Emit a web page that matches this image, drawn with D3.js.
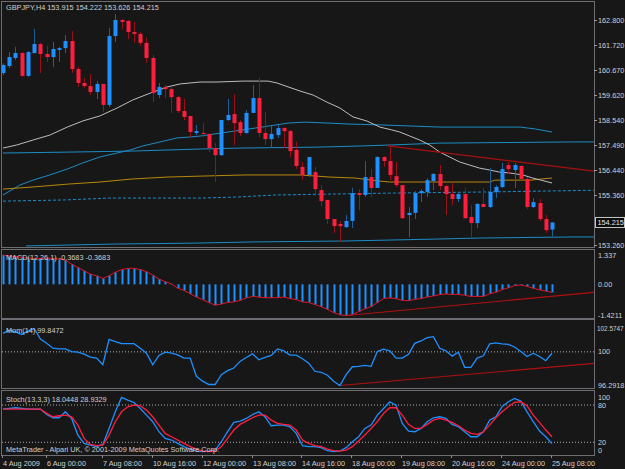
<!DOCTYPE html>
<html><head><meta charset="utf-8">
<script src="https://cdn.jsdelivr.net/npm/d3@7"></script>
<style>html,body{margin:0;padding:0;background:#181718;}svg{display:block;}</style>
</head><body>
<svg id="c" width="625" height="469"></svg>
<script>
// ---------------- DATA ----------------
const openVals=[160.55,160.85,161.19,161.40,160.43,161.40,161.78,161.36,161.23,161.53,161.61,161.91,160.72,160.13,160.00,159.75,160.09,159.20,162.12,162.80,162.76,162.29,162.21,161.83,161.19,159.62,159.96,159.87,159.53,158.94,158.73,158.01,158.01,157.97,157.37,157.07,158.56,158.81,158.47,158.01,158.86,159.49,158.01,157.75,157.92,158.22,158.09,157.29,156.57,156.23,156.35,155.59,155.17,154.36,154.15,154.02,154.28,155.46,155.38,156.14,155.68,156.99,156.82,156.18,155.80,154.53,154.62,155.46,155.51,155.97,156.27,155.76,155.42,155.21,155.42,154.45,154.19,155.00,154.87,155.51,155.72,156.65,156.44,156.61,156.06,154.87,155.04,154.36,153.915];
const highVals=[160.95,161.44,161.66,161.44,161.49,162.42,161.83,161.70,161.87,161.66,162.16,162.33,160.81,160.34,160.51,160.21,160.09,162.46,163.05,162.84,162.80,162.72,162.29,162.04,161.32,160.13,160.04,159.96,159.58,159.45,158.73,158.35,158.43,157.97,157.58,158.56,159.45,159.66,158.56,158.98,160.04,160.34,158.90,158.30,158.35,158.26,158.14,157.63,156.78,156.99,156.57,155.80,155.17,154.36,154.28,154.53,155.68,155.63,156.82,156.48,157.03,157.03,157.46,156.78,155.80,154.87,155.55,155.63,156.10,156.31,156.65,155.80,155.89,155.46,155.68,154.95,155.04,155.68,156.52,155.80,156.74,156.78,156.74,156.65,156.14,155.25,155.21,154.53,154.222];
const lowVals=[160.47,160.76,161.10,160.38,160.38,161.38,160.55,161.02,160.81,161.02,161.40,160.55,159.96,159.92,159.62,159.45,158.90,159.11,161.87,162.42,161.99,161.83,161.70,160.98,159.32,159.49,159.49,158.86,158.86,158.56,157.84,157.92,157.84,157.20,155.93,157.03,158.52,157.50,157.88,157.97,158.86,157.84,157.50,157.37,157.80,157.37,156.99,156.48,156.01,156.14,155.34,154.91,154.15,153.77,153.39,153.98,153.98,154.74,155.29,155.29,155.68,156.57,156.01,155.72,154.36,153.60,154.36,155.08,155.29,155.59,155.59,154.53,154.95,155.08,154.36,153.56,153.98,154.87,154.83,155.25,155.68,156.27,155.68,156.01,154.78,154.83,154.28,153.77,153.626];
const closeVals=[160.89,161.23,161.40,160.43,161.44,161.78,161.36,161.23,161.57,161.61,161.91,160.72,160.13,160.00,159.75,160.09,159.20,162.12,162.80,162.72,162.29,162.21,161.83,161.19,159.70,159.96,159.87,159.53,158.94,158.69,158.05,158.09,157.97,157.37,157.07,158.56,158.77,158.43,158.01,158.86,159.49,158.01,157.75,157.97,158.22,158.09,157.24,156.61,156.23,156.99,155.63,155.12,154.36,154.06,154.06,154.28,155.46,155.38,156.14,155.68,156.99,156.82,156.23,155.80,154.40,154.62,155.46,155.55,156.01,156.27,155.76,155.42,155.21,155.42,154.40,154.19,155.00,154.87,155.51,155.72,156.48,156.48,156.65,156.06,154.87,155.08,154.36,153.89,154.215];

// main-panel indicator lines: [bar index, price]
const maWhite=[[0,157.37],[2.2,157.50],[4.8,157.71],[7.5,157.92],[10.3,158.26],[12.8,158.52],[15.5,158.73],[18.3,159.07],[20.8,159.41],[23.6,159.70],[26.3,159.96],[28.4,160.09],[31.6,160.17],[34.3,160.17],[38.5,160.21],[42.5,160.21],[43.9,160.13],[47.6,159.79],[49.7,159.62],[51.9,159.32],[54.0,159.07],[56.1,158.69],[58.3,158.52],[60.4,158.26],[62.3,158.14],[63.6,158.05],[65.2,157.88],[66.8,157.71],[68.4,157.50],[70.0,157.20],[71.6,156.99],[73.2,156.78],[74.8,156.65],[76.4,156.52],[78.0,156.44],[79.6,156.35],[81.3,156.31],[83.3,156.23],[84.9,156.10],[88,155.89]];
const maBlue=[[0,155.38],[2.7,155.80],[4.8,156.01],[7.5,156.23],[10.3,156.48],[12.8,156.74],[15.5,156.99],[18.3,157.16],[20.4,157.29],[22.4,157.46],[25.2,157.63],[27.9,157.80],[30,157.84],[31.6,157.88],[36.1,158.05],[41.5,158.26],[45.7,158.43],[48.4,158.47],[52.1,158.43],[55.3,158.39],[60.7,158.35],[70,158.26],[82.9,158.26],[85.3,158.18],[88,158.05]];
const bandUpper=[[0,157.16],[10.7,157.20],[20.4,157.24],[31.6,157.33],[38,157.37],[50.5,157.41],[57.5,157.46],[62,157.50],[70,157.58],[91.3,157.63],[97,157.63]];
const maGold=[[0,155.63],[4.8,155.72],[10.3,155.84],[15.5,155.93],[20.8,156.06],[26.3,156.14],[31.6,156.18],[38.8,156.23],[47.6,156.23],[52.4,156.14],[56.4,156.10],[60.4,155.97],[62,155.93],[78,155.93],[78.8,156.01],[84.5,156.01],[88,156.10]];
const bandMid=[[0,155.12],[9.9,155.17],[17.1,155.25],[31.6,155.25],[37.2,155.29],[43.6,155.38],[62,155.46],[78,155.51],[97,155.59]];
const bandLower=[[3.7,153.22],[10.7,153.26],[17.9,153.30],[30.8,153.34],[40.1,153.39],[54.8,153.43],[62,153.47],[69.2,153.51],[76.4,153.555],[90.9,153.60],[97,153.60]];
const priceTrend=[[61.7,157.46],[97,156.32]];

const macdVals=[1.337,1.30,1.26,1.23,1.20,1.18,1.18,1.20,1.18,1.15,1.11,0.92,0.77,0.62,0.47,0.39,0.27,0.39,0.55,0.67,0.73,0.73,0.67,0.58,0.42,0.24,0.12,0.02,-0.18,-0.28,-0.43,-0.58,-0.70,-0.83,-0.95,-0.90,-0.83,-0.80,-0.73,-0.62,-0.55,-0.58,-0.61,-0.61,-0.61,-0.58,-0.65,-0.70,-0.80,-0.83,-0.92,-1.02,-1.14,-1.29,-1.39,-1.4211,-1.39,-1.24,-1.12,-1.02,-0.83,-0.65,-0.62,-0.65,-0.73,-0.75,-0.68,-0.65,-0.58,-0.53,-0.47,-0.44,-0.46,-0.46,-0.50,-0.55,-0.55,-0.55,-0.43,-0.36,-0.24,-0.16,-0.06,-0.03,-0.09,-0.18,-0.25,-0.31,-0.3683];
const macdTrend=[[55.1,-1.42],[97,-0.31]];

const momVals=[102.03,102.39,102.21,101.92,102.28,102.5747,101.41,100.94,100.40,100.32,100.32,100.03,99.96,99.74,99.42,99.31,98.58,101.38,101.12,100.91,100.91,100.91,100.40,99.85,98.58,99.60,99.96,99.85,99.67,99.31,99.31,97.31,96.77,96.40,96.40,97.49,97.93,98.22,98.95,99.38,99.78,99.13,99.38,99.60,100.32,100.11,99.64,99.64,99.24,98.76,97.86,97.75,97.42,96.77,96.2918,97.49,98.36,98.40,98.51,98.40,100.03,100.29,100.11,99.31,99.31,99.74,100.94,101.20,101.56,101.67,100.40,100.11,99.53,99.96,98.29,98.29,99.31,99.56,100.87,100.98,100.87,100.83,100.54,100.03,99.49,99.85,99.49,99.02,99.8472];
const momTrend=[[54,96.29],[97,98.86]];

const stochK=[73.4,74.5,75.6,74.5,73.4,73.4,73.4,64.8,59.5,59.5,69.1,58.4,31.6,18.2,15.5,12.9,16.6,42.3,69.1,92.2,87.9,84.1,74.5,63.8,53.1,37.0,26.3,23.6,18.2,12.9,9.1,5.9,4.8,5.9,7.5,20.9,37.0,52.0,54.1,58.4,64.8,69.1,61.1,46.6,47.7,47.7,45.0,34.3,14.5,12.9,12.9,11.3,6.4,4.8,5.9,11.3,20.9,28.9,42.3,47.7,63.8,74.5,85.2,79.8,50.4,38.0,37.0,42.3,53.1,59.5,61.1,58.4,48.8,45.0,37.0,28.9,28.9,37.0,55.7,61.1,77.2,85.2,90.6,86.3,69.1,53.1,38.0,28.9,18.0448];
const stochD=[73.4,73.4,73.4,73.4,73.4,73.4,73.4,66.5,61.1,62.7,63.8,61.1,47.7,26.3,16.6,14.5,15.5,31.6,53.1,69.1,77.2,79.8,78.8,71.8,61.1,47.7,34.3,28.9,23.6,18.2,12.9,9.1,5.9,4.8,5.9,12.9,26.3,39.7,48.8,54.1,59.5,63.8,63.8,55.7,50.4,48.8,47.7,39.7,23.6,18.2,14.5,12.9,9.1,6.4,5.9,7.5,12.9,22.0,31.6,42.3,53.1,66.5,75.6,75.6,63.8,48.8,42.3,42.3,48.8,55.7,58.4,55.7,52.0,46.6,39.7,34.3,32.7,37.0,47.7,59.5,69.1,77.2,84.1,85.2,78.8,63.8,52.0,39.7,28.9329];

const priceTicks=[162.800,161.720,160.670,159.620,158.540,157.490,156.440,155.360,153.260];
const lastPrice=154.215;
const timeLabels=["4 Aug 2009","6 Aug 00:00","7 Aug 08:00","10 Aug 16:00","12 Aug 00:00","13 Aug 08:00","14 Aug 16:00","18 Aug 00:00","19 Aug 08:00","20 Aug 16:00","24 Aug 00:00","25 Aug 08:00"];
const timeLabelBars=[0,7,16,24,32,40,48,56,64,72,80,88];
const macdTicks=[1.337,0.00,-1.4211];
const momTicks=[102.5747,100,96.2918];
const stochTicks=[100,80,20,0];

// ---------------- LAYOUT ----------------
const FONT="'Liberation Sans',Arial,sans-serif", FS=7.3, TXT="#cfcfcf";
const plotL=2, plotR=594;
const P={main:[2,247],macd:[250,318],mom:[320,388],sto:[391,455]};
const svg=d3.select("#c");
svg.append("rect").attr("width",625).attr("height",469).attr("fill","#181718");

const x=d3.scaleLinear().domain([0,88]).range([3,552]);
const yP=d3.scaleLinear().domain([153.26,162.8]).range([245,20]);
const yM=d3.scaleLinear().domain([-1.4211,1.337]).range([315.5,255]);
const yMo=d3.scaleLinear().domain([96.2918,102.5747]).range([385.5,328.5]);
const yS=d3.scaleLinear().domain([0,100]).range([454.7,392.6]);

const defs=svg.append("defs");
Object.entries(P).forEach(([k,[t,b]])=>{
  defs.append("clipPath").attr("id","clip-"+k).append("rect")
    .attr("x",plotL).attr("y",t).attr("width",plotR-plotL).attr("height",b-t);
});
const g={};
Object.keys(P).forEach(k=>{g[k]=svg.append("g").attr("clip-path",`url(#clip-${k})`);});

// panel frames / separators
const frame=svg.append("g");
Object.entries(P).forEach(([k,[t,b]])=>{
  frame.append("rect").attr("x",plotL-0.5).attr("y",t-0.5).attr("width",plotR-plotL+1).attr("height",b-t+1)
    .attr("fill","none").attr("stroke","#6e6e72").attr("stroke-width",1);
});

const line=(xs,ys)=>d3.line().x(d=>xs(d[0])).y(d=>ys(d[1]));

// ---- main panel lines ----
const gm=g.main;
gm.append("path").datum(bandLower).attr("d",line(x,yP)).attr("fill","none").attr("stroke","#1c8cc4").attr("stroke-width",1);
gm.append("path").datum(bandMid).attr("d",line(x,yP)).attr("fill","none").attr("stroke","#1c8cc4").attr("stroke-width",1).attr("stroke-dasharray","3,2");
gm.append("path").datum(bandUpper).attr("d",line(x,yP)).attr("fill","none").attr("stroke","#1c8cc4").attr("stroke-width",1);
gm.append("path").datum(maBlue).attr("d",line(x,yP)).attr("fill","none").attr("stroke","#1c8cc4").attr("stroke-width",1);
gm.append("path").datum(maGold).attr("d",line(x,yP)).attr("fill","none").attr("stroke","#b8860b").attr("stroke-width",1);
gm.append("path").datum(maWhite).attr("d",line(x,yP)).attr("fill","none").attr("stroke","#bdbdbd").attr("stroke-width",1);
gm.append("path").datum(priceTrend).attr("d",line(x,yP)).attr("fill","none").attr("stroke","#a81010").attr("stroke-width",1.2);

// candles
const candles=openVals.map((o,i)=>({i,o,h:highVals[i],l:lowVals[i],c:closeVals[i]}));
const cg=gm.append("g");
cg.selectAll("line.w").data(candles).join("line")
  .attr("x1",d=>Math.round(x(d.i))+0.5).attr("x2",d=>Math.round(x(d.i))+0.5)
  .attr("y1",d=>yP(d.h)).attr("y2",d=>yP(d.l))
  .attr("stroke",d=>d.c>=d.o?"#1f5f99":"#9a1018").attr("stroke-width",1);
cg.selectAll("rect.b").data(candles).join("rect")
  .attr("x",d=>Math.round(x(d.i))-1.5).attr("width",4)
  .attr("y",d=>yP(Math.max(d.o,d.c))).attr("height",d=>Math.max(1,Math.abs(yP(d.o)-yP(d.c))))
  .attr("fill",d=>d.c>=d.o?"#1e90ff":"#ff1e3c");

// ---- MACD ----
const gmc=g.macd;
gmc.selectAll("rect").data(macdVals).join("rect")
  .attr("x",(d,i)=>Math.round(x(i))-0.5).attr("width",2)
  .attr("y",d=>Math.min(yM(0),yM(d))).attr("height",d=>Math.abs(yM(d)-yM(0)))
  .attr("fill","#1e90ff");
gmc.append("path").datum(macdVals.map((v,i)=>[i,v])).attr("d",line(x,yM)).attr("fill","none").attr("stroke","#e01424").attr("stroke-width",1);
gmc.append("path").datum(macdTrend).attr("d",line(x,yM)).attr("fill","none").attr("stroke","#b01010").attr("stroke-width",1.2);

// ---- Momentum ----
const gmo=g.mom;
gmo.append("line").attr("x1",plotL).attr("x2",plotR).attr("y1",yMo(100)).attr("y2",yMo(100))
  .attr("stroke","#b0b0b0").attr("stroke-dasharray","1,2");
gmo.append("path").datum(momTrend).attr("d",line(x,yMo)).attr("fill","none").attr("stroke","#b01010").attr("stroke-width",1.2);
gmo.append("path").datum(momVals.map((v,i)=>[i,v])).attr("d",line(x,yMo)).attr("fill","none").attr("stroke","#1e90ff").attr("stroke-width",1.3);

// ---- Stochastic ----
const gs=g.sto;
[80,20].forEach(v=>gs.append("line").attr("x1",plotL).attr("x2",plotR).attr("y1",yS(v)).attr("y2",yS(v))
  .attr("stroke","#b0b0b0").attr("stroke-dasharray","1,2"));
gs.append("path").datum(stochK.map((v,i)=>[i,v])).attr("d",line(x,yS)).attr("fill","none").attr("stroke","#1e90ff").attr("stroke-width",1.3);
gs.append("path").datum(stochD.map((v,i)=>[i,v])).attr("d",line(x,yS)).attr("fill","none").attr("stroke","#ff1e3c").attr("stroke-width",1.3);

// ---- right axes ----
const ax=svg.append("g").attr("font-family",FONT).attr("font-size",FS).attr("fill",TXT);
function rightTicks(vals,scale,fmt){
  vals.forEach(v=>{
    const yy=scale(v);
    ax.append("line").attr("x1",plotR).attr("x2",plotR+3).attr("y1",Math.round(yy)+0.5).attr("y2",Math.round(yy)+0.5).attr("stroke","#9a9a9a");
    ax.append("text").attr("x",plotR+4).attr("y",yy).attr("dy","0.35em").text(fmt(v));
  });
}
rightTicks(priceTicks,yP,v=>v.toFixed(3));
// last price box
{
  const yy=yP(lastPrice);
  ax.append("rect").attr("x",plotR+1.5).attr("y",yy-5).attr("width",29).attr("height",10).attr("fill","#0a0a0a").attr("stroke","#c8c8c8");
  ax.append("text").attr("x",plotR+3.5).attr("y",yy).attr("dy","0.35em").attr("fill","#e8e8e8").text(lastPrice.toFixed(3));
}
function subLabels(vals,scale,fmts,offs){
  vals.forEach((v,i)=>{
    const t=ax.append("text").attr("x",plotR+4).attr("y",scale(v)+offs[i]).attr("dy","0.35em").text(fmts[i]);
    if(fmts[i].length>7) t.attr("x",plotR+3).attr("font-size",6.4);
  });
}
subLabels(macdTicks,yM,["1.337","0.00","-1.4211"],[0,0,0]);
subLabels(momTicks,yMo,["102.5747","100","96.2918"],[0,0,0]);
subLabels(stochTicks,yS,["100","80","20","0"],[4.5,0,0,-4.5]);

// ---- time axis ----
timeLabelBars.forEach((b,i)=>{
  const xx=Math.round(x(b))-0.5;
  ax.append("line").attr("x1",xx).attr("x2",xx).attr("y1",455).attr("y2",458).attr("stroke","#8a8a8a");
  ax.append("text").attr("x",xx+0.5).attr("y",463).attr("dy","0.35em").text(timeLabels[i]);
});

// ---- panel titles ----
ax.append("text").attr("x",6).attr("y",7.5).attr("dy","0.35em").text("GBPJPY,H4  153.915 154.222 153.626 154.215");
ax.append("text").attr("x",6).attr("y",257).attr("dy","0.35em").text("MACD(12,26,1) -0.3683 -0.3683");
ax.append("text").attr("x",6).attr("y",330).attr("dy","0.35em").text("Mom(14) 99.8472");
ax.append("text").attr("x",6).attr("y",399).attr("dy","0.35em").text("Stoch(13,3,3) 18.0448 28.9329");
ax.append("text").attr("x",6).attr("y",449).attr("dy","0.35em").text("MetaTrader - Alpari UK, © 2001-2009 MetaQuotes Software Corp.");
</script>
</body></html>
